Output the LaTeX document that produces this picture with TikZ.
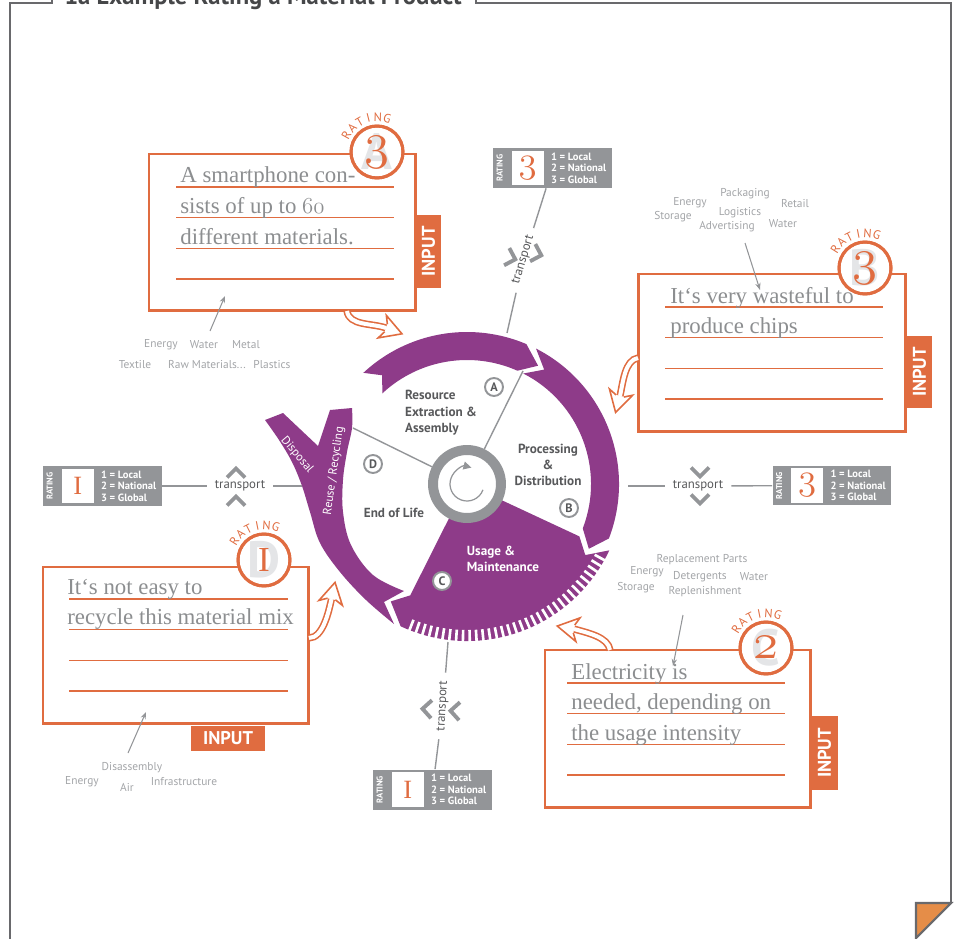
\documentclass[tikz,border=0pt]{standalone}
\usepackage{fix-cm}
\usepackage{fontspec}
\setsansfont{PT Sans}
\newfontfamily\notefont{Liberation Serif}
\usetikzlibrary{arrows.meta,positioning,calc}

\definecolor{lilac}{RGB}{142,59,137}
\definecolor{rust}{RGB}{224,108,64}
\definecolor{fold}{RGB}{229,141,72}
\definecolor{ink}{RGB}{88,89,91}
\definecolor{slate}{RGB}{147,149,152}
\definecolor{mist}{RGB}{163,165,168}
\definecolor{ghost}{RGB}{228,229,231}
\definecolor{frameline}{RGB}{105,105,108}

\newcommand\osn[1]{{\usefont{OML}{cmm}{m}{it}#1}}
\newcommand\one[1]{{\notefont\fontsize{#1}{#1}\selectfont I}}
\newcommand\rawmat{Raw Materials...}

% grey rating box: name, centre, value
\newcommand\ratingbox[3]{%
  \node[rbox] (#1) at (#2) {};
  \node[rboxtag] (#1-tag) at ($(#1.west)+(7,0)$) {RATING};
  \node[rboxsq] (#1-sq) at ($(#1.west)+(35,0)$) {#3};
  \node[rboxkey] (#1-key) at ($(#1.west)+(58,0)$) {1 = Local\\2 = National\\3 = Global};
}
% orange rating seal: name, centre, ghost letter, value, angle of the R
\newcommand\ratingseal[5]{%
  \node[seal] (#1) at (#2) {};
  \node[sealghost] (#1-g) at (#1) {#3};
  \node[seal, fill=none] (#1-ring) at (#1) {};
  \node[sealval] (#1-v) at (#1) {#4};
  \foreach \ch [count=\k from 0] in {R,A,T,I,N,G}
    \node[sealtag, rotate=#5-15.6*\k-90] (#1-t\k) at ($(#1)+({15.6*\k-#5}:35)$) {\ch};
}
\newcommand\hollowhead[2]{%
  \draw[inhead, shift={(#1)}, rotate=#2] (0,4) -- (-4,12) -- (17,0) -- (-4,-12) -- (0,-4);}
\newcommand\chevron[2]{%
  \draw[chev, shift={(#1)}, rotate=#2] (-4.5,-9) -- (4.5,0) -- (-4.5,9);}

\begin{document}
\begin{tikzpicture}[
    x=0.02cm, y=-0.02cm,
    font=\sffamily,
    sheet/.style={draw=frameline, line width=1.2pt},
    heading/.style={anchor=base, inner sep=0, text=ink!80!black, font=\sffamily\bfseries\fontsize{14}{14}\selectfont},
    rbox/.style={fill=slate, minimum width=2.38cm, minimum height=0.8cm, inner sep=0},
    rboxtag/.style={rotate=90, text=white, inner sep=0, font=\sffamily\bfseries\fontsize{4.8}{5}\selectfont},
    rboxsq/.style={fill=white, minimum width=0.64cm, minimum height=0.7cm, inner sep=0, text=rust, font=\fontsize{21}{21}\selectfont},
    rboxkey/.style={anchor=west, align=left, text=white, inner sep=0, font=\sffamily\bfseries\fontsize{6}{6.6}\selectfont},
    seal/.style={circle, draw=rust, line width=1.7pt, fill=white, minimum size=1.04cm, inner sep=0},
    sealghost/.style={text=ghost, inner sep=0, font=\sffamily\bfseries\fontsize{29}{29}\selectfont},
    sealval/.style={text=rust, inner sep=0, font=\fontsize{29}{29}\selectfont},
    sealtag/.style={text=rust, inner sep=0, font=\sffamily\fontsize{7}{7}\selectfont},
    card/.style={draw=rust, line width=1.7pt, fill=white, anchor=north west, inner sep=0, outer sep=0},
    ruling/.style={rust, line width=0.9pt},
    note/.style={anchor=base west, inner sep=0, text=slate!95!black, font=\notefont\fontsize{13}{14}\selectfont},
    tab/.style={fill=rust, text=white, inner sep=0, font=\sffamily\bfseries\fontsize{10.5}{10.5}\selectfont},
    inflow/.style={draw=rust, line width=0.9pt, double=white, double distance=2.3pt},
    inhead/.style={draw=rust, line width=0.9pt, fill=white},
    hinttext/.style={text=mist, inner sep=0, font=\sffamily\fontsize{6.5}{7}\selectfont},
    pointer/.style={draw=slate, line width=0.6pt, -{Stealth[length=4pt, width=3pt]}},
    transport/.style={text=ink, inner sep=4.5pt, font=\sffamily\fontsize{7.3}{8}\selectfont},
    link/.style={draw=slate, line width=0.8pt},
    chev/.style={draw=slate, line width=2.2pt},
    stage/.style={text=ink, inner sep=0, font=\sffamily\bfseries\fontsize{7.5}{9.3}\selectfont},
    marker/.style={circle, draw=slate, line width=1.1pt, fill=white, minimum size=0.36cm, inner sep=0, text=ink, font=\sffamily\bfseries\fontsize{7}{7}\selectfont},
    flow/.style={text=white, inner sep=0, font=\sffamily\fontsize{6.8}{7}\selectfont},
    hub/.style={circle, draw=slate, line width=5.67pt, fill=white, minimum size=1.36cm, inner sep=0}
  ]
  \useasboundingbox (0,0) rectangle (957,939);
  \clip (0,0) rectangle (957,939);

  % sheet and title
  \draw[sheet] (52,-8) -- (52,3) -- (10,3) -- (10,945);
  \draw[sheet] (476,-8) -- (476,3) -- (951,3) -- (951,903) -- (916,903);
  \filldraw[sheet, fill=fold] (916,903) -- (951,903) -- (916,938) -- cycle;
  \node[heading] (heading) at (263,5) {1a Example Rating a Material Product};

  % life cycle wheel
  \begin{scope}[shift={(467,484)}, yscale=-1]
    \fill[lilac] (133:152) arc[start angle=133, end angle=67, radius=152] -- (59:138)
      -- (66:124) arc[start angle=66, end angle=133, radius=124] -- (128:138) -- cycle;
    \fill[lilac] (63:152) arc[start angle=63, end angle=-21, radius=152] -- (-28:138)
      -- (-21:124) arc[start angle=-21, end angle=63, radius=124] -- (56:138) -- cycle;
    \fill[lilac] (-25:30) -- (-25:124) -- (-31:138) -- (-25:157) arc[start angle=-25, end angle=-115, radius=157]
      -- (-123:140) -- (-117:125) -- (-118:30) arc[start angle=-118, end angle=-25, radius=30] -- cycle;
    \foreach \a in {-29,-31.5,...,-113}
      \draw[white, line width=1.5pt] (\a:146) -- (\a:160);
  \end{scope}
  \fill[lilac] (394,624) -- plot[smooth, tension=0.6] coordinates {(394,624) (366,600) (340,572) (320,543)
      (310,512) (302,486) (292,462) (279,440) (265,420)}
    -- (283,413) -- (318,446) -- (330,410) -- (352,408)
    -- plot[smooth, tension=0.6] coordinates {(352,408) (352,428) (347,452) (343,480) (343,512)
      (351,545) (373,575) (404,591)}
    -- (384,602) -- cycle;
  \node[flow, rotate=-50] (disposal) at (297,455) {Disposal};
  \node[flow, rotate=82] (reuse) at (334,471) {Reuse / Recycling};

  \node[hub] (hub) at (467,484) {};
  \begin{scope}[shift={(467,484)}, yscale=-1]
    \draw[slate, line width=0.7pt, -{Triangle[length=4.5pt, width=4.5pt]}]
      (-20:17) arc[start angle=-20, end angle=-285, radius=17];
  \end{scope}
  \coordinate (rimA) at (523,371);
  \coordinate (rimD) at (353,428);
  \draw[link] (hub) -- (rimA);
  \draw[link] (hub) -- (rimD);

  \node[stage, align=left] (extract) at (441,413) {Resource\\Extraction \&\\Assembly};
  \node[stage, align=center] (process) at (548,465) {Processing\\\&\\Distribution};
  \node[stage] (eol) at (394,513) {End of Life};
  \node[stage, align=left, text=white] (usage) at (503,559) {Usage \&\\Maintenance};
  \node[marker] (mA) at (494,387) {A};
  \node[marker] (mB) at (569,508) {B};
  \node[marker] (mC) at (442,581) {C};
  \node[marker] (mD) at (373,464) {D};

  % transport links
  \ratingbox{rbTop}{552.5,168}{\osn{3}}
  \ratingbox{rbLeft}{102.5,486}{\one{15}}
  \ratingbox{rbRight}{832,485.5}{\osn{3}}
  \ratingbox{rbDown}{432.5,789.5}{\one{15}}
  \node[transport, rotate=73] (tUp) at (523.5,260) {transport};
  \node[transport] (tLeft) at (240,486) {transport};
  \node[transport] (tRight) at (698,486) {transport};
  \node[transport, rotate=87] (tDown) at (443,706) {transport};
  \coordinate (rimTop) at (507,333);
  \coordinate (rimLeft) at (302,486);
  \coordinate (rimRight) at (628,486);
  \coordinate (rimDown) at (448,642);
  \draw[link] (rimTop) -- (tUp);
  \draw[link] (tUp) -- (rbTop);
  \draw[link] (rimLeft) -- (tLeft);
  \draw[link] (tLeft) -- (rbLeft);
  \draw[link] (rimRight) -- (tRight);
  \draw[link] (tRight) -- (rbRight);
  \draw[link] (rimDown) -- (tDown);
  \draw[link] (tDown) -- (rbDown);
  \chevron{511,258}{-17}
  \chevron{537,254}{-17}
  \chevron{236,473}{90}
  \chevron{236,501}{90}
  \chevron{700,472}{-90}
  \chevron{700,499}{-90}
  \chevron{427,709}{177}
  \chevron{455,711}{177}

  % note cards
  \node[card, minimum width=5.34cm, minimum height=3.14cm] (card1) at (149,154) {};
  \node[card, minimum width=5.36cm, minimum height=3.16cm] (card2) at (638,274) {};
  \node[card, minimum width=5.32cm, minimum height=3.14cm] (card3) at (43,567) {};
  \node[card, minimum width=5.32cm, minimum height=3.16cm] (card4) at (545,650) {};
  \foreach \n/\l/\r/\t in {card1/27/22/33, card2/27/23/33, card3/26/21/32, card4/22/26/33}
    \foreach \k in {0,...,3}
      \draw[ruling] ($(\n.north west)+(\l,\t+30.7*\k)$) -- ($(\n.north east)+(-\r,\t+30.7*\k)$);
  \foreach \txt [count=\k from 0] in {A smartphone con-, sists of up to \osn{60}, different materials.}
    \node[note] (note1-\k) at ($(card1.north west)+(31,29+30.7*\k)$) {\txt};
  \foreach \txt [count=\k from 0] in {It‘s very wasteful to, produce chips}
    \node[note] (note2-\k) at ($(card2.north west)+(32,29+30.7*\k)$) {\txt};
  \foreach \txt [count=\k from 0] in {It‘s not easy to, recycle this material mix}
    \node[note] (note3-\k) at ($(card3.north west)+(24,27+30.7*\k)$) {\txt};
  \foreach \txt [count=\k from 0] in {Electricity is, {needed, depending on}, the usage intensity}
    \node[note] (note4-\k) at ($(card4.north west)+(26,29+30.7*\k)$) {\txt};

  \node[tab, rotate=90, minimum width=1.46cm, minimum height=0.5cm] (tab1) at (428.5,251.5) {INPUT};
  \node[tab, rotate=90, minimum width=1.44cm, minimum height=0.5cm] (tab2) at (919.5,372) {INPUT};
  \node[tab, minimum width=1.48cm, minimum height=0.5cm] (tab3) at (228,738.5) {INPUT};
  \node[tab, rotate=90, minimum width=1.48cm, minimum height=0.54cm] (tab4) at (824.5,753) {INPUT};

  \ratingseal{seal1}{377,152}{A}{\osn{3}}{151}
  \ratingseal{seal2}{865,268}{B}{\osn{3}}{148}
  \ratingseal{seal3}{264,560}{D}{\one{20}}{148}
  \ratingseal{seal4}{766,648}{C}{\osn{2}}{148}

  % inputs flowing into the wheel
  \coordinate (out1) at ($(card1.south west)+(198,0)$);
  \coordinate (in1) at (386,328);
  \draw[inflow] (out1) .. controls (349,326) and (372,323) .. (in1);
  \hollowhead{in1}{-20}
  \coordinate (out2) at ($(card2.west)+(0,5)$);
  \coordinate (in2) at (620,396);
  \draw[inflow] (out2) .. controls (625,360) and (623,382) .. (in2);
  \hollowhead{in2}{-105}
  \coordinate (out3) at ($(card3.south east)+(0,-86)$);
  \coordinate (in3) at (331.5,599);
  \draw[inflow] (out3) .. controls (323,638) and (328.6,612) .. (in3);
  \hollowhead{in3}{78}
  \coordinate (out4) at ($(card4.north west)+(65,0)$);
  \coordinate (in4) at (574,629);
  \draw[inflow] (out4) .. controls (608,637) and (588,633) .. (in4);
  \hollowhead{in4}{170}

  % what goes in
  \foreach \x/\y/\w [count=\i] in {161/345/Energy, 204/345/Water, 246/345/Metal,
      135/365/Textile, 207/365/\rawmat, 272/365/Plastics}
    \node[hinttext] (ann1-\i) at (\x,\y) {\w};
  \foreach \x/\y/\w [count=\i] in {690/203/Energy, 673/217/Storage, 745/194/Packaging,
      740/213/Logistics, 727/227/Advertising, 795/204/Retail, 783/224/Water}
    \node[hinttext] (ann2-\i) at (\x,\y) {\w};
  \foreach \x/\y/\w [count=\i] in {132/768/Disassembly, 82/782/Energy, 127/787/Air, 184/782/Infrastructure}
    \node[hinttext] (ann3-\i) at (\x,\y) {\w};
  \foreach \x/\y/\w [count=\i] in {702/560/Replacement Parts, 647/572/Energy, 700/577/Detergents,
      754/577/Water, 636/588/Storage, 705/592/Replenishment}
    \node[hinttext] (ann4-\i) at (\x,\y) {\w};
  \coordinate (p1a) at (210,331); \coordinate (p1b) at (225,296);
  \coordinate (p2a) at (745,243); \coordinate (p2b) at (760,290);
  \coordinate (p3a) at (128,753); \coordinate (p3b) at (146,712);
  \coordinate (p4a) at (683,615); \coordinate (p4b) at (673,666);
  \draw[pointer] (p1a) -- (p1b);
  \draw[pointer] (p2a) -- (p2b);
  \draw[pointer] (p3a) -- (p3b);
  \draw[pointer] (p4a) -- (p4b);
\end{tikzpicture}
\end{document}
